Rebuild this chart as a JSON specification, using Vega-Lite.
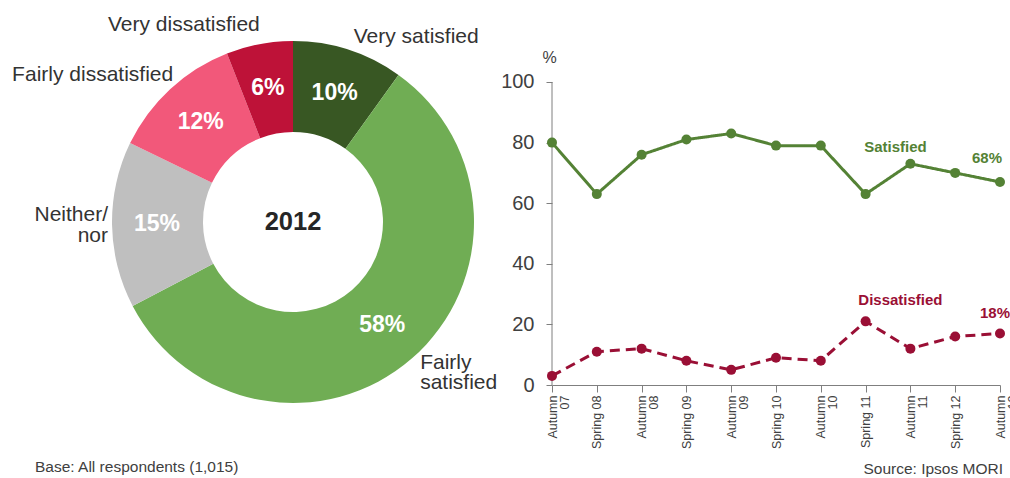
{
  "$schema": "https://vega.github.io/schema/vega-lite/v6.json",
  "padding": 0,
  "background": "white",
  "bounds": "flush",
  "spacing": 0,
  "resolve": {"scale": {"color": "independent"}},
  "config": {"view": {"stroke": null}, "font": "Liberation Sans"},
  "hconcat": [
    {
      "width": 586,
      "height": 444,
      "title": {"text": "Base: All respondents (1,015)", "orient": "bottom", "anchor": "start", "frame": "group", "dx": 35, "offset": 16, "baseline": "top", "fontSize": 15.5, "fontWeight": "normal", "color": "#404040", "font": "Liberation Sans"},
      "data": {"values": [
        {"cat": "Very satisfied", "name": "Very satisfied", "pct": 10, "pctLabel": "10%"},
        {"cat": "Fairly satisfied", "name": "Fairly\nsatisfied", "pct": 58, "pctLabel": "58%"},
        {"cat": "Neither/nor", "name": "Neither/\nnor", "pct": 15, "pctLabel": "15%"},
        {"cat": "Fairly dissatisfied", "name": "Fairly dissatisfied", "pct": 12, "pctLabel": "12%"},
        {"cat": "Very dissatisfied", "name": "Very dissatisfied", "pct": 6, "pctLabel": "6%"}
      ]},
      "transform": [{"calculate": "indexof(['Very satisfied','Fairly satisfied','Neither/nor','Fairly dissatisfied','Very dissatisfied'], datum.cat)", "as": "idx"}],
      "layer": [
        {
          "mark": {"type": "arc", "innerRadius": 90, "outerRadius": 181},
          "encoding": {
            "theta": {"field": "pct", "type": "quantitative", "stack": true},
            "order": {"field": "idx", "type": "quantitative"},
            "color": {"field": "cat", "type": "nominal", "legend": null,
              "scale": {"domain": ["Very satisfied", "Fairly satisfied", "Neither/nor", "Fairly dissatisfied", "Very dissatisfied"],
                        "range": ["#385723", "#70ad54", "#bfbfbf", "#f2587a", "#be1238"]}}
          }
        },
        {
          "mark": {"type": "text", "radius": 136, "fontSize": 23, "fontWeight": "bold", "fill": "white", "align": "center", "baseline": "middle"},
          "encoding": {
            "theta": {"field": "pct", "type": "quantitative", "stack": true},
            "order": {"field": "idx", "type": "quantitative"},
            "detail": {"field": "cat"},
            "text": {"field": "pctLabel"}
          }
        },
        {
          "mark": {"type": "text", "radius": 200, "dx": 62, "dy": 5, "align": "center", "baseline": "middle", "fontSize": 21, "fill": "#333333", "lineBreak": "\n", "lineHeight": 20},
          "encoding": {
            "theta": {"field": "pct", "type": "quantitative", "stack": true},
            "order": {"field": "idx", "type": "quantitative"},
            "detail": {"field": "cat"},
            "text": {"condition": {"test": "datum.cat === 'Very satisfied'", "field": "name"}, "value": ""}
          }
        },
        {
          "mark": {"type": "text", "radius": 200, "dx": -4, "dy": -10, "align": "left", "baseline": "middle", "fontSize": 21, "fill": "#333333", "lineBreak": "\n", "lineHeight": 20},
          "encoding": {
            "theta": {"field": "pct", "type": "quantitative", "stack": true},
            "order": {"field": "idx", "type": "quantitative"},
            "detail": {"field": "cat"},
            "text": {"condition": {"test": "datum.cat === 'Fairly satisfied'", "field": "name"}, "value": ""}
          }
        },
        {
          "mark": {"type": "text", "radius": 200, "dx": 15, "dy": -10, "align": "right", "baseline": "middle", "fontSize": 21, "fill": "#333333", "lineBreak": "\n", "lineHeight": 21},
          "encoding": {
            "theta": {"field": "pct", "type": "quantitative", "stack": true},
            "order": {"field": "idx", "type": "quantitative"},
            "detail": {"field": "cat"},
            "text": {"condition": {"test": "datum.cat === 'Neither/nor'", "field": "name"}, "value": ""}
          }
        },
        {
          "mark": {"type": "text", "radius": 200, "dx": 16, "dy": 0, "align": "right", "baseline": "middle", "fontSize": 21, "fill": "#333333", "lineBreak": "\n", "lineHeight": 20},
          "encoding": {
            "theta": {"field": "pct", "type": "quantitative", "stack": true},
            "order": {"field": "idx", "type": "quantitative"},
            "detail": {"field": "cat"},
            "text": {"condition": {"test": "datum.cat === 'Fairly dissatisfied'", "field": "name"}, "value": ""}
          }
        },
        {
          "mark": {"type": "text", "radius": 200, "dx": -72, "dy": 0, "align": "center", "baseline": "middle", "fontSize": 21, "fill": "#333333", "lineBreak": "\n", "lineHeight": 20},
          "encoding": {
            "theta": {"field": "pct", "type": "quantitative", "stack": true},
            "order": {"field": "idx", "type": "quantitative"},
            "detail": {"field": "cat"},
            "text": {"condition": {"test": "datum.cat === 'Very dissatisfied'", "field": "name"}, "value": ""}
          }
        },
        {
          "data": {"values": [{"year": "2012"}]},
          "mark": {"type": "text", "fontSize": 25.5, "fontWeight": "bold", "fill": "#262626", "align": "center", "baseline": "middle"},
          "encoding": {"text": {"field": "year"}}
        }
      ]
    },
    {
      "width": 414,
      "height": 385,
      "title": {"text": "Source: Ipsos MORI", "orient": "bottom", "anchor": "end", "frame": "group", "dx": 3, "offset": 13, "baseline": "top", "fontSize": 15.5, "fontWeight": "normal", "color": "#404040", "font": "Liberation Sans"},
      "layer": [
        {
          "data": {"values": [{}]},
          "mark": {"type": "rule", "color": "#7f7f7f", "strokeWidth": 1},
          "encoding": {"x": {"datum": "Autumn 07", "type": "ordinal"}, "y": {"datum": 0, "type": "quantitative"}, "y2": {"datum": 100}}
        },
        {
          "data": {"name": "trend", "values": [
            {"period": "Autumn 07", "series": "Satisfied", "value": 80},
            {"period": "Spring 08", "series": "Satisfied", "value": 63},
            {"period": "Autumn 08", "series": "Satisfied", "value": 76},
            {"period": "Spring 09", "series": "Satisfied", "value": 81},
            {"period": "Autumn 09", "series": "Satisfied", "value": 83},
            {"period": "Spring 10", "series": "Satisfied", "value": 79},
            {"period": "Autumn 10", "series": "Satisfied", "value": 79},
            {"period": "Spring 11", "series": "Satisfied", "value": 63},
            {"period": "Autumn 11", "series": "Satisfied", "value": 73},
            {"period": "Spring 12", "series": "Satisfied", "value": 70},
            {"period": "Autumn 12", "series": "Satisfied", "value": 67},
            {"period": "Autumn 07", "series": "Dissatisfied", "value": 3},
            {"period": "Spring 08", "series": "Dissatisfied", "value": 11},
            {"period": "Autumn 08", "series": "Dissatisfied", "value": 12},
            {"period": "Spring 09", "series": "Dissatisfied", "value": 8},
            {"period": "Autumn 09", "series": "Dissatisfied", "value": 5},
            {"period": "Spring 10", "series": "Dissatisfied", "value": 9},
            {"period": "Autumn 10", "series": "Dissatisfied", "value": 8},
            {"period": "Spring 11", "series": "Dissatisfied", "value": 21},
            {"period": "Autumn 11", "series": "Dissatisfied", "value": 12},
            {"period": "Spring 12", "series": "Dissatisfied", "value": 16},
            {"period": "Autumn 12", "series": "Dissatisfied", "value": 17}
          ]},
          "encoding": {
            "x": {"field": "period", "type": "ordinal",
              "scale": {"type": "point", "padding": 0, "range": [-34, 414], "domain": ["Autumn 07", "Spring 08", "Autumn 08", "Spring 09", "Autumn 09", "Spring 10", "Autumn 10", "Spring 11", "Autumn 11", "Spring 12", "Autumn 12"]},
              "axis": {"title": null, "labelAngle": -90, "labelFontSize": 12.5, "labelColor": "#404040", "labelFont": "Liberation Sans",
                "labelExpr": "indexof(datum.label, 'Autumn') == 0 ? ['Autumn', substring(datum.label, 7)] : datum.label",
                "labelLineHeight": 12, "tickSize": 7, "tickColor": "#7f7f7f", "domainColor": "#7f7f7f", "labelPadding": 3, "grid": false}},
            "y": {"field": "value", "type": "quantitative",
              "scale": {"domain": [0, 127.06], "nice": false, "zero": true},
              "axis": {"title": "%", "offset": 34, "titleAngle": 0, "titleX": -3, "titleY": 57, "titleAlign": "center", "titleBaseline": "middle", "titleFontSize": 16, "titleFontWeight": "normal", "titleColor": "#404040", "titleFont": "Liberation Sans",
                "values": [0, 20, 40, 60, 80, 100], "domain": false, "grid": false, "tickSize": 6, "tickColor": "#7f7f7f",
                "labelFontSize": 20, "labelColor": "#404040", "labelFont": "Liberation Sans", "labelPadding": 12}},
            "color": {"field": "series", "type": "nominal", "legend": null, "scale": {"domain": ["Satisfied", "Dissatisfied"], "range": ["#548235", "#9a0f35"]}}
          },
          "layer": [
            {
              "mark": {"type": "line", "strokeWidth": 3},
              "encoding": {
                "strokeDash": {"field": "series", "type": "nominal", "legend": null, "scale": {"domain": ["Satisfied", "Dissatisfied"], "range": [[1, 0], [10, 6]]}}
              }
            },
            {
              "mark": {"type": "point", "filled": true, "size": 100, "opacity": 1}
            }
          ]
        },
        {
          "data": {"values": [{}]},
          "mark": {"type": "text", "text": "Satisfied", "dx": -15, "fontSize": 15, "fontWeight": "bold", "fill": "#548235", "align": "center", "baseline": "middle"},
          "encoding": {"x": {"datum": "Autumn 11", "type": "ordinal"}, "y": {"datum": 78.5, "type": "quantitative"}}
        },
        {
          "data": {"values": [{}]},
          "mark": {"type": "text", "text": "68%", "dx": -13, "fontSize": 15, "fontWeight": "bold", "fill": "#548235", "align": "center", "baseline": "middle"},
          "encoding": {"x": {"datum": "Autumn 12", "type": "ordinal"}, "y": {"datum": 75, "type": "quantitative"}}
        },
        {
          "data": {"values": [{}]},
          "mark": {"type": "text", "text": "Dissatisfied", "dx": -10, "fontSize": 15, "fontWeight": "bold", "fill": "#9a0f35", "align": "center", "baseline": "middle"},
          "encoding": {"x": {"datum": "Autumn 11", "type": "ordinal"}, "y": {"datum": 28, "type": "quantitative"}}
        },
        {
          "data": {"values": [{}]},
          "mark": {"type": "text", "text": "18%", "dx": -5, "fontSize": 15, "fontWeight": "bold", "fill": "#9a0f35", "align": "center", "baseline": "middle"},
          "encoding": {"x": {"datum": "Autumn 12", "type": "ordinal"}, "y": {"datum": 23.8, "type": "quantitative"}}
        }
      ]
    }
  ]
}
